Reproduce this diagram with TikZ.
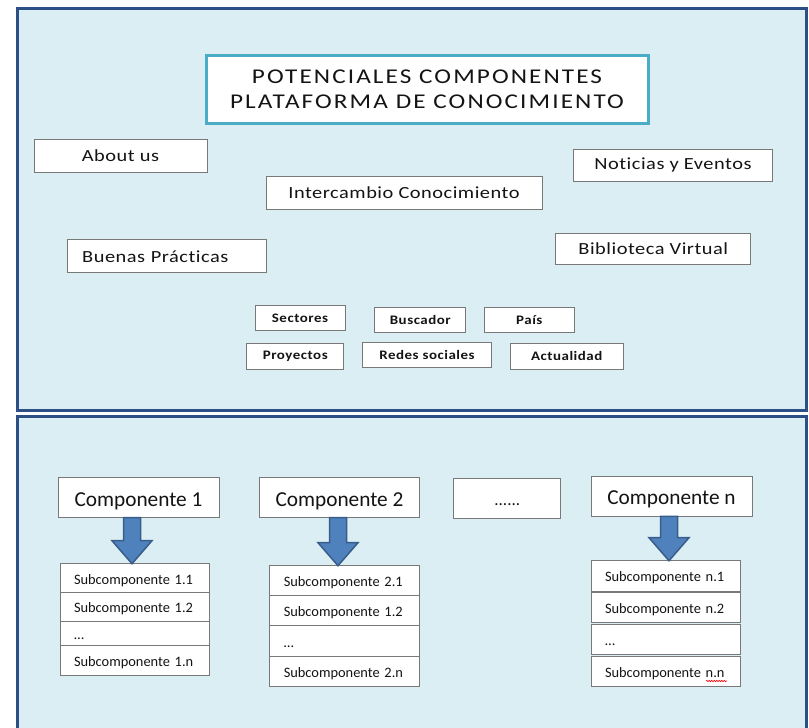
\documentclass[tikz,border=0pt]{standalone}
\usepackage{fontspec}
\setmainfont{Carlito}[Ligatures=NoCommon]
\newfontfamily\topfont{Carlito}[Ligatures=NoCommon, FakeStretch=1.2, LetterSpace=3]
\newfontfamily\titlefnt{Carlito}[Ligatures=NoCommon, FakeStretch=1.2, LetterSpace=10]
\newfontfamily\smallfnt{Carlito}[Ligatures=NoCommon, FakeStretch=1.15, LetterSpace=4]
\usetikzlibrary{calc,decorations.pathmorphing}
\definecolor{panelfill}{RGB}{219,238,243}
\definecolor{panelborder}{RGB}{44,80,134}
\definecolor{titleborder}{RGB}{75,172,198}
\definecolor{boxborder}{RGB}{120,120,120}
\definecolor{arrowfill}{RGB}{79,129,189}
\definecolor{arrowborder}{RGB}{56,93,138}
\definecolor{txt}{RGB}{20,20,20}
\newcommand\blockarr[3]{%
  \coordinate (bat) at (#1,0 |- #2.south);
  \coordinate (bab) at (#1,0 |- #3.north);
  \filldraw[barrowstyle] ([xshift=-8.5pt]bat) -- ([xshift=8.5pt]bat) -- ([xshift=8.5pt,yshift=23pt]bab) -- ([xshift=20pt,yshift=23pt]bab) -- (bab) -- ([xshift=-20pt,yshift=23pt]bab) -- ([xshift=-8.5pt,yshift=23pt]bab) -- cycle;
}
\begin{document}
\begin{tikzpicture}[x=1pt,y=-1pt,
 panel/.style={draw=panelborder, line width=3pt, fill=panelfill},
 box/.style={draw=boxborder, line width=0.9pt, fill=white, inner sep=0pt, outer sep=0pt, text=txt},
 titlebox/.style={draw=titleborder, line width=3pt, fill=white, inner sep=0pt, align=center, text=txt, font=\titlefnt\fontsize{21}{25}\selectfont},
 topbox/.style={box, font=\topfont\fontsize{17}{20}\selectfont},
 smallbox/.style={box, font=\smallfnt\bfseries\fontsize{13}{15}\selectfont},
 compbox/.style={box, font=\fontsize{21.3}{24}\selectfont, text height=17pt, text depth=0pt},
 subbox/.style={box, font=\fontsize{14.4}{16}\selectfont, align=left, text width=121.5pt, minimum width=149.5pt, text height=12pt, text depth=0pt},
 barrowstyle/.style={fill=arrowfill, draw=arrowborder, line width=1.5pt, line join=miter}]
\useasboundingbox (0,0) rectangle (809,728);
\begin{scope}
\clip (0,0) rectangle (809,728);
\draw[panel] (17,8) rectangle (806,410);
\draw[panel] (17,416) rectangle (806,745);
\end{scope}
% top panel
\node[titlebox, minimum width=442pt, minimum height=68pt] (title) at (427,89) {POTENCIALES COMPONENTES\\PLATAFORMA DE CONOCIMIENTO};
\node[topbox, minimum width=173pt, minimum height=33pt] (about) at (120.5,155.5) {About us};
\node[topbox, minimum width=199pt, minimum height=32pt] (noticias) at (673,165) {Noticias y Eventos};
\node[topbox, minimum width=276pt, minimum height=33pt] (intercambio) at (404,193) {Intercambio Conocimiento};
\node[topbox, minimum width=199pt, minimum height=33pt, text width=170pt, align=left] (buenas) at (167.2,256.3) {Buenas Prácticas};
\node[topbox, minimum width=195pt, minimum height=31pt] (biblioteca) at (653.3,248.7) {Biblioteca Virtual};
\node[smallbox, minimum width=90pt, minimum height=25pt] (sectores) at (300,318.2) {Sectores};
\node[smallbox, minimum width=91pt, minimum height=25pt] (buscador) at (420.3,319.8) {Buscador};
\node[smallbox, minimum width=90pt, minimum height=25pt] (pais) at (529.3,319.8) {País};
\node[smallbox, minimum width=97pt, minimum height=26pt] (proyectos) at (295.3,356.2) {Proyectos};
\node[smallbox, minimum width=129pt, minimum height=25pt] (redes) at (427,355.2) {Redes sociales};
\node[smallbox, minimum width=113pt, minimum height=26pt] (actualidad) at (566.7,356.2) {Actualidad};
% bottom panel
\node[compbox, minimum width=161pt, minimum height=40pt] (c1) at (138.5,497.5) {Componente 1};
\node[compbox, minimum width=160pt, minimum height=40pt] (c2) at (339.5,497.5) {Componente 2};
\node[box, font=\fontsize{17}{20}\selectfont, text height=14pt, text depth=0pt, minimum width=107pt, minimum height=40pt] (cd) at (507.3,498.3) {......};
\node[compbox, minimum width=161pt, minimum height=40pt] (cn) at (671.5,496.3) {Componente n};
% stack 1
\node[subbox, minimum height=28.6pt] (s11) at (134.75,578) {Subcomponente 1.1};
\node[subbox, minimum height=29pt] (s12) at (134.75,606.8) {Subcomponente 1.2};
\node[subbox, minimum height=24.4pt] (s13) at (134.75,633.5) {…};
\node[subbox, minimum height=30pt] (s14) at (134.75,660.7) {Subcomponente 1.n};
% stack 2
\node[subbox, minimum height=29.6pt] (s21) at (344.5,580.5) {Subcomponente 2.1};
\node[subbox, minimum height=30.4pt] (s22) at (344.5,610.5) {Subcomponente 1.2};
\node[subbox, minimum height=31pt] (s23) at (344.5,641.2) {…};
\node[subbox, minimum height=30pt] (s24) at (344.5,671.7) {Subcomponente 2.n};
% stack n
\node[subbox, minimum height=30.3pt] (sn1) at (665.75,575.85) {Subcomponente n.1};
\node[subbox, minimum height=30pt] (sn2) at (665.75,607.3) {Subcomponente n.2};
\node[subbox, minimum height=30pt] (sn3) at (665.75,639) {…};
\node[subbox, minimum height=30pt] (sn4) at (665.75,671.7) {Subcomponente n.n};
\draw[red, line width=0.6pt, decorate, decoration={snake, amplitude=0.7pt, segment length=2.5pt}] (706,681) -- (727,681);
% arrows
\blockarr{132}{c1}{s11}
\blockarr{338}{c2}{s21}
\blockarr{669}{cn}{sn1}
\end{tikzpicture}
\end{document}
